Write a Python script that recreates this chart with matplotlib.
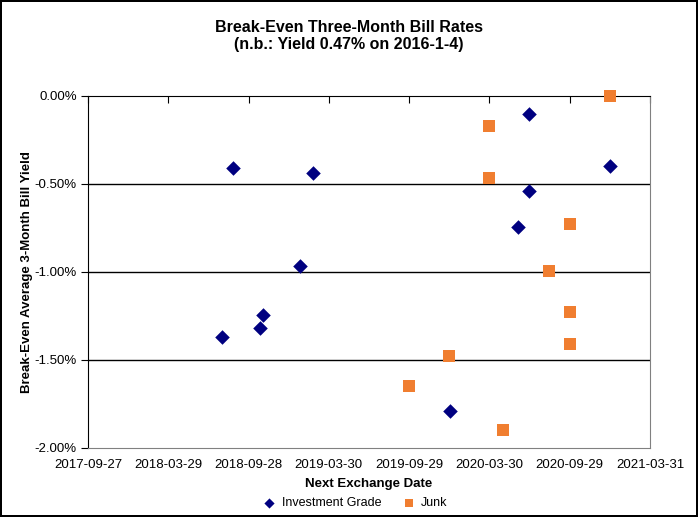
import pandas as pd
import numpy as np
import matplotlib.pyplot as plt
import matplotlib as mpl
import matplotlib.dates as mdates
from matplotlib.ticker import FuncFormatter

plt.rcParams["font.family"] = ["Liberation Sans", "DejaVu Sans"]

# Data
ig_dates = ["2018-07-29", "2018-08-23", "2018-10-24", "2018-11-01", "2019-01-23",
            "2019-02-22", "2019-12-30", "2020-06-29", "2020-06-29", "2020-06-02",
            "2020-12-30"]
ig_yield = [-1.367, -0.41, -1.32, -1.246, -0.966, -0.44, -1.79, -0.104, -0.538, -0.746, -0.40]

junk_dates = ["2020-12-30", "2020-03-29", "2020-03-29", "2020-09-30", "2020-08-13",
              "2020-09-30", "2020-09-30", "2019-12-28", "2019-09-28", "2020-04-30"]
junk_yield = [0.0, -0.169, -0.464, -0.727, -0.993, -1.227, -1.409, -1.476, -1.646, -1.90]

tick_labels = ["2017-09-27", "2018-03-29", "2018-09-28", "2019-03-30",
               "2019-09-29", "2020-03-30", "2020-09-29", "2021-03-31"]
y_ticks = [-2.0, -1.5, -1.0, -0.5, 0.0]

ig_x = mdates.date2num(pd.to_datetime(ig_dates))
junk_x = mdates.date2num(pd.to_datetime(junk_dates))
tick_x = mdates.date2num(pd.to_datetime(tick_labels))

fig = plt.figure(figsize=(6.98, 5.17), dpi=100)
fig.patch.set_edgecolor("black")
fig.patch.set_linewidth(1.5)
ax = fig.add_axes([88 / 698, 1 - 448 / 517, 562 / 698, 352 / 517])

ax.scatter(ig_x, ig_yield, marker="D", s=55, color="#000080", linewidths=0,
           label="Investment Grade", zorder=3, clip_on=False)
ax.scatter(junk_x, junk_yield, marker="s", s=80, color="#F07E30", linewidths=0,
           label="Junk", zorder=3, clip_on=False)

ax.set_xlim(tick_x[0], tick_x[-1])
ax.set_ylim(-2.0, 0.0)
ax.set_xticks(tick_x)
ax.set_xticklabels(tick_labels)
ax.set_yticks(y_ticks)
ax.yaxis.set_major_formatter(FuncFormatter(lambda v, p: "%.2f%%" % v))

for v in y_ticks[1:-1]:
    ax.axhline(v, color="black", lw=1, zorder=1)

ax.spines["top"].set_color("black")
ax.spines["left"].set_color("black")
ax.spines["right"].set_color("#808080")
ax.spines["bottom"].set_color("#808080")

ax.tick_params(axis="x", top=True, bottom=False, labeltop=False, labelbottom=True,
               direction="in", length=5, pad=8, labelsize=9.5)
ax.tick_params(axis="y", direction="out", length=5, pad=3, labelsize=9.5)

ax.set_xlabel("Next Exchange Date", fontsize=9.5, fontweight="bold", labelpad=5)
fig.text(27 / 698, 1 - 272 / 517, "Break-Even Average 3-Month Bill Yield", rotation=90,
         ha="center", va="center", fontsize=9.5, fontweight="bold")

fig.text(0.5, 1 - 36 / 517, "Break-Even Three-Month Bill Rates\n(n.b.: Yield 0.47% on 2016-1-4)",
         ha="center", va="center", fontsize=11.5, fontweight="bold", linespacing=1.15)

fig.legend(loc="center", bbox_to_anchor=(352 / 698, 1 - 503 / 517), ncol=2, frameon=False,
           fontsize=9, handletextpad=0.0, columnspacing=1.2, markerscale=0.7)

plt.savefig("out.png", dpi=100)
